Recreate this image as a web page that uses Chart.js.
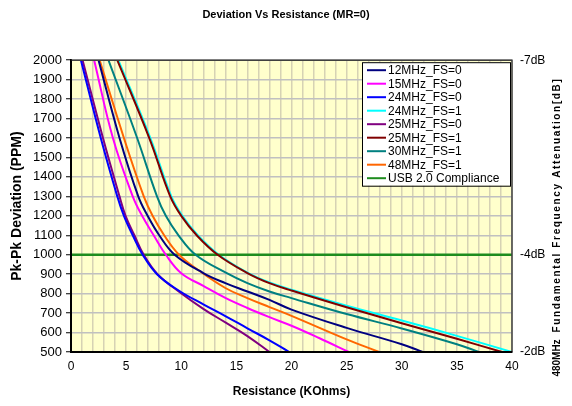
<!DOCTYPE html>
<html><head><meta charset="utf-8">
<script src="https://cdn.jsdelivr.net/npm/chart.js@4.4.0/dist/chart.umd.min.js"></script>
<style>html,body{margin:0;padding:0;background:#fff}#wrap{width:572px;height:406px}</style>
</head><body><div id="wrap"><canvas id="c" width="572" height="406"></canvas></div>
<script>
// ---- data ----
const chartTitle = 'Deviation Vs Resistance (MR=0)';
const xTitle = 'Resistance (KOhms)';
const yTitle = 'Pk-Pk Deviation (PPM)';
const y2TitleA = '480MHz';
const y2TitleB = 'Fundamental Frequency Attenuation[dB]';
const seriesNames = ['12MHz_FS=0','15MHz_FS=0','24MHz_FS=0','24MHz_FS=1','25MHz_FS=0','25MHz_FS=1','30MHz_FS=1','48MHz_FS=1'];
const complianceName = 'USB 2.0 Compliance';

const r12MHz0 = [2.5, 4.4, 6.1, 6.95, 8.0, 9.4, 12, 14, 16, 18, 20, 25, 30, 31.9];
const p12MHz0 = [2000,1600,1300,1200,1100,1000,906,854,811,768,718,624,540,500];
const r15MHz0 = [2.1, 3.8, 5.6, 6.45, 7.5, 8.6, 10, 12, 14, 16, 18, 20, 22.5, 25.2];
const p15MHz0 = [2000,1600,1300,1200,1100,1000,905,840,778,726,679,635,572,500];
const r24MHz0 = [0.9, 2.7, 4.2, 4.8, 5.6, 6.5, 7.8, 9.8, 12, 14, 16, 18, 19.8];
const p24MHz0 = [2000,1600,1300,1200,1100,1000,900,815,745,685,622,560,500];
const r24MHz1 = [4.3, 7.2, 9.1, 10.1, 11.5, 13.4, 16, 18, 20, 25, 30, 35, 40];
const p24MHz1 = [2000,1600,1300,1200,1100,1000,908,857,820,738,662,583,500];
const r25MHz0 = [1.05, 2.9, 4.4, 4.95, 5.75, 6.6, 7.85, 9.8, 12, 14, 16, 18];
const p25MHz0 = [2000,1600,1300,1200,1100,1000,900,810,722,652,582,500];
const r25MHz1 = [4.2, 7.1, 9.0, 10.0, 11.4, 13.3, 16, 18, 20, 25, 30, 35, 39.1];
const p25MHz1 = [2000,1600,1300,1200,1100,1000,906,854,816,730,648,568,500];
const r30MHz1 = [3.4, 6.0, 7.8, 8.6, 9.75, 11.3, 14, 16, 18, 20, 25, 30, 35, 37.0];
const p30MHz1 = [2000,1600,1300,1200,1100,1000,909,854,811,777,695,621,540,500];
const r48MHz1 = [2.6, 4.8, 6.6, 7.4, 8.45, 9.8, 11.5, 14, 16, 18, 20, 25, 27.95];
const p48MHz1 = [2000,1600,1300,1200,1100,1000,923,829,777,731,686,565,500];
const complianceR = [0, 40];
const complianceP = [1000, 1000];

const xTickLabelStep = 5;
const dbTickValues = [2000, 1000, 500];
const dbTickLabels = ['-7dB', '-4dB', '-2dB'];

// ---- styles ----
const seriesColors = ['#000080','#FF00FF','#0000FF','#00FFFF','#800080','#800000','#008080','#FF6600'];
const complianceColor = '#1E8C1E';

const seriesR = [r12MHz0, r15MHz0, r24MHz0, r24MHz1, r25MHz0, r25MHz1, r30MHz1, r48MHz1];
const seriesP = [p12MHz0, p15MHz0, p24MHz0, p24MHz1, p25MHz0, p25MHz1, p30MHz1, p48MHz1];

const datasets = seriesNames.map((name, i) => ({
  label: name,
  data: seriesR[i].map((r, j) => ({x: r, y: seriesP[i][j]})),
  borderColor: seriesColors[i],
  backgroundColor: seriesColors[i],
  borderWidth: 2,
  pointRadius: 0,
  showLine: true,
  fill: false,
  tension: 0.4,
  order: seriesNames[i] === '24MHz_FS=1' ? 1 : 0
}));
datasets.push({
  label: complianceName,
  data: complianceR.map((r, j) => ({x: r, y: complianceP[j]})),
  borderColor: complianceColor,
  backgroundColor: complianceColor,
  borderWidth: 2.5,
  pointRadius: 0,
  showLine: true,
  fill: false,
  order: 0
});

const FONT = 'Arial, "Liberation Sans", sans-serif';

const bgPlugin = {
  id: 'bg',
  beforeDraw(chart) {
    const {ctx, chartArea: a} = chart;
    ctx.save();
    ctx.fillStyle = '#ffffff';
    ctx.fillRect(0, 0, chart.width, chart.height);
    ctx.fillStyle = '#FFFFCC';
    ctx.fillRect(a.left, a.top, a.right - a.left, a.bottom - a.top);
    ctx.restore();
  }
};

const framePlugin = {
  id: 'frame',
  afterDatasetsDraw(chart) {
    const {ctx, chartArea: a} = chart;
    ctx.save();
    ctx.strokeStyle = '#404040';
    ctx.lineWidth = 1.5;
    ctx.beginPath();
    ctx.moveTo(a.left, a.top); ctx.lineTo(a.right, a.top); ctx.lineTo(a.right, a.bottom);
    ctx.stroke();
    ctx.strokeStyle = '#000';
    ctx.lineWidth = 2;
    ctx.beginPath();
    ctx.moveTo(a.left, a.top); ctx.lineTo(a.left, a.bottom); ctx.lineTo(a.right, a.bottom);
    ctx.stroke();
    ctx.restore();
  }
};

const legendPlugin = {
  id: 'customLegend',
  afterDraw(chart) {
    const {ctx, chartArea: a} = chart;
    const w = 148, rowH = 13.5;
    const items = chart.data.datasets;
    const h = items.length * rowH + 2;
    const left = a.right - w - 2, top = a.top + 2;
    ctx.save();
    ctx.fillStyle = '#fff';
    ctx.fillRect(left, top, w, h);
    ctx.strokeStyle = '#000';
    ctx.lineWidth = 1;
    ctx.strokeRect(left + 0.5, top + 0.5, w, h);
    ctx.font = '12px ' + FONT;
    ctx.textBaseline = 'middle';
    ctx.textAlign = 'left';
    items.forEach((ds, i) => {
      const y = top + 8 + i * rowH;
      ctx.strokeStyle = ds.borderColor;
      ctx.lineWidth = 2;
      ctx.beginPath();
      ctx.moveTo(left + 5, y); ctx.lineTo(left + 24, y);
      ctx.stroke();
      ctx.fillStyle = '#000';
      ctx.fillText(ds.label, left + 26, y + 0.5);
    });
    ctx.restore();
  }
};

const rightTitlePlugin = {
  id: 'rightTitle',
  afterDraw(chart) {
    const {ctx} = chart;
    ctx.save();
    ctx.fillStyle = '#000';
    ctx.font = 'bold 10px ' + FONT;
    ctx.textBaseline = 'middle';
    ctx.textAlign = 'center';
    ctx.translate(557, 0);
    ctx.rotate(-Math.PI / 2);
    ctx.fillText(y2TitleA, -358, 0);
    const target = 255;
    const nat = ctx.measureText(y2TitleB).width;
    if ('letterSpacing' in ctx) {
      ctx.letterSpacing = Math.max(0, (target - nat) / y2TitleB.length).toFixed(2) + 'px';
    }
    ctx.fillText(y2TitleB, -205, 0);
    ctx.restore();
  }
};

new Chart(document.getElementById('c'), {
  type: 'scatter',
  data: {datasets},
  plugins: [bgPlugin, framePlugin, legendPlugin, rightTitlePlugin],
  options: {
    responsive: false,
    animation: false,
    devicePixelRatio: 1,
    layout: {padding: 0},
    plugins: {
      legend: {display: false},
      tooltip: {enabled: false},
      title: {
        display: true,
        text: chartTitle,
        color: '#000',
        font: {family: FONT, size: 11, weight: 'bold'},
        padding: {top: 8, bottom: 39}
      }
    },
    scales: {
      x: {
        type: 'linear', min: 0, max: 40,
        afterFit: s => { s.height = 54; },
        ticks: {
          stepSize: 1, autoSkip: false, maxRotation: 0, padding: 7,
          color: '#000', font: {family: FONT, size: 12},
          callback: v => (v % xTickLabelStep === 0 ? String(v) : '')
        },
        grid: {color: '#D6D2B4', lineWidth: 1.5, drawTicks: false},
        border: {display: true, color: '#000', width: 2},
        title: {display: true, text: xTitle, color: '#000', font: {family: FONT, size: 12, weight: 'bold'}, padding: {top: 0, bottom: 7}}
      },
      y: {
        type: 'linear', position: 'left', min: 500, max: 2000,
        afterFit: s => { s.width = 71; },
        ticks: {stepSize: 100, padding: 4, color: '#000', font: {family: FONT, size: 13}, callback: v => String(v)},
        grid: {color: '#C0C0C0', lineWidth: 1.5, drawTicks: true, tickLength: 5, tickColor: '#000', tickWidth: 1},
        border: {display: true, color: '#000', width: 2},
        title: {display: true, text: yTitle, color: '#000', font: {family: FONT, size: 14, weight: 'bold'}, padding: {top: 9, bottom: 0}}
      },
      y2: {
        type: 'linear', position: 'right', min: 500, max: 2000,
        afterFit: s => { s.width = 60; },
        afterBuildTicks: s => { s.ticks = dbTickValues.map(v => ({value: v})); },
        ticks: {
          padding: 8, color: '#000', font: {family: FONT, size: 12},
          callback: v => { const k = dbTickValues.indexOf(v); return k >= 0 ? dbTickLabels[k] : ''; }
        },
        grid: {display: false, drawTicks: false},
        border: {display: false}
      }
    }
  }
});
</script>
</body></html>
